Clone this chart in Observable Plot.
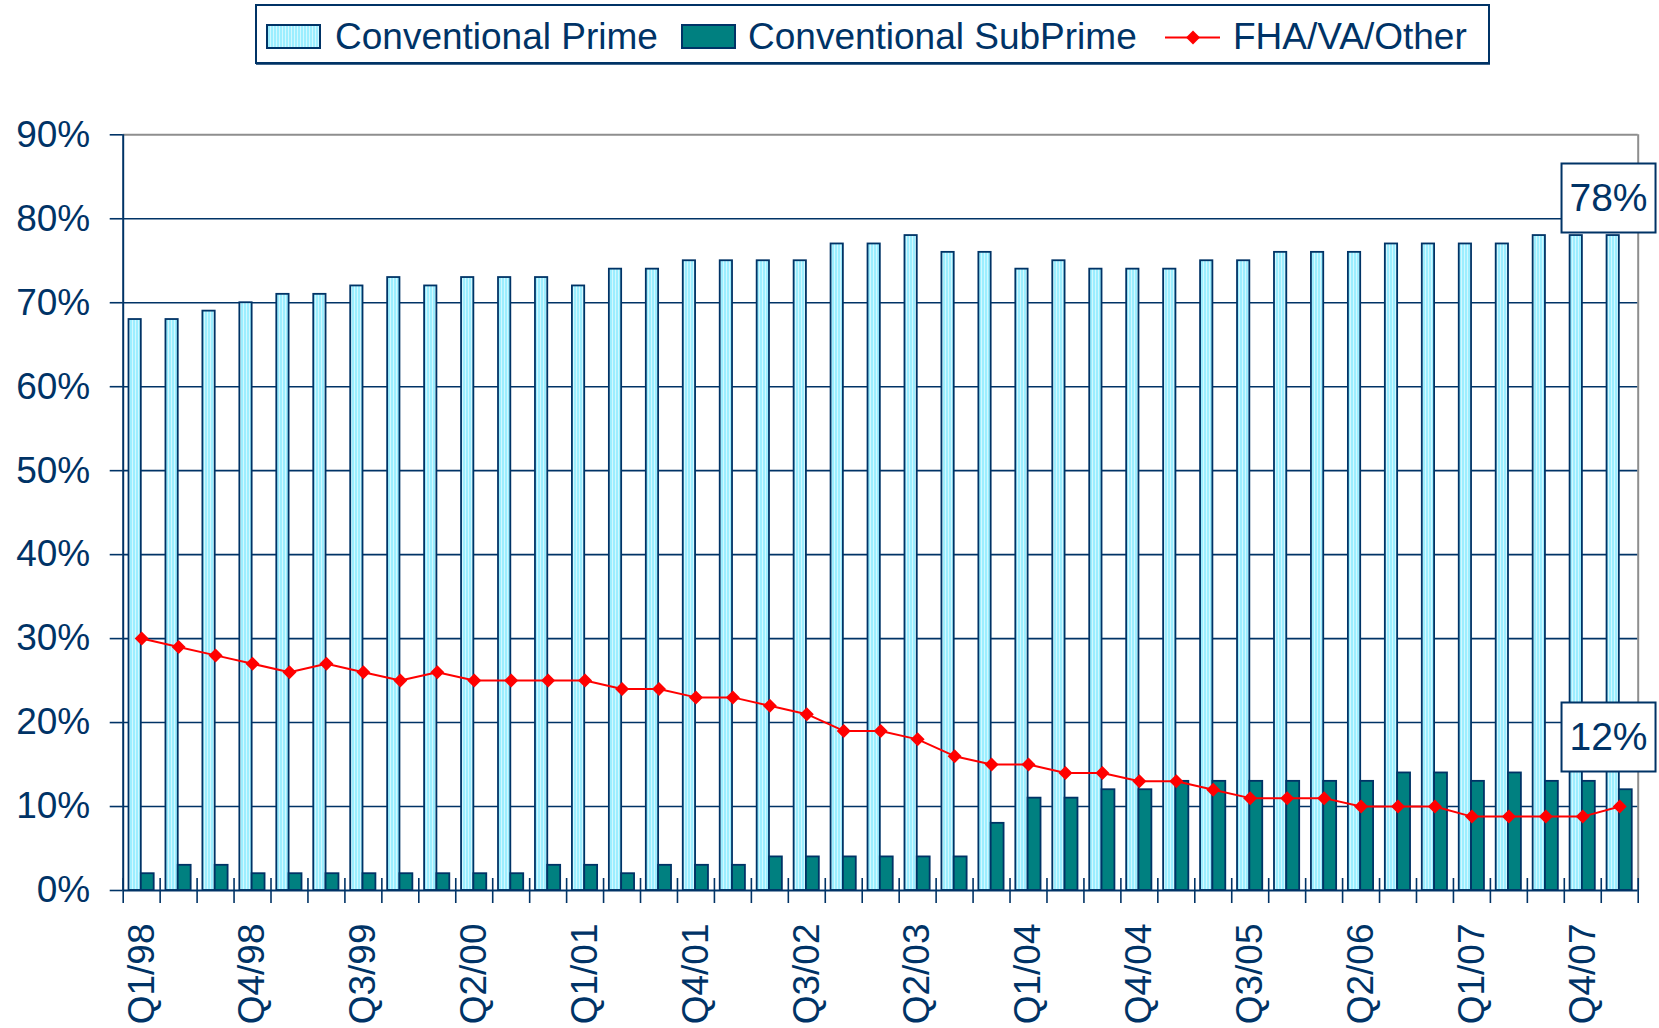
<!DOCTYPE html>
<html>
<head>
<meta charset="utf-8">
<script src="https://cdn.jsdelivr.net/npm/d3@7"></script>
<script src="https://cdn.jsdelivr.net/npm/@observablehq/plot@0.6"></script>
<style>
  html, body { margin: 0; padding: 0; background: #fff; overflow: hidden; }
  #wrap { position: relative; width: 1659px; height: 1028px; overflow: hidden; font-family: "Liberation Sans", Arial, sans-serif; }
  #legend { position: absolute; left: 0; top: 0; }
  #chart { position: absolute; left: 0; top: 70px; }
</style>
</head>
<body>
<div id="wrap">
  <svg id="legend"></svg>
  <div id="chart"></div>
</div>
<script>
// ---------------- DATA ----------------
const quarters = [
  "Q1/98","Q2/98","Q3/98","Q4/98",
  "Q1/99","Q2/99","Q3/99","Q4/99",
  "Q1/00","Q2/00","Q3/00","Q4/00",
  "Q1/01","Q2/01","Q3/01","Q4/01",
  "Q1/02","Q2/02","Q3/02","Q4/02",
  "Q1/03","Q2/03","Q3/03","Q4/03",
  "Q1/04","Q2/04","Q3/04","Q4/04",
  "Q1/05","Q2/05","Q3/05","Q4/05",
  "Q1/06","Q2/06","Q3/06","Q4/06",
  "Q1/07","Q2/07","Q3/07","Q4/07",
  "Q1/08"
];
const tickLabels = ["Q1/98","Q4/98","Q3/99","Q2/00","Q1/01","Q4/01","Q3/02","Q2/03","Q1/04","Q4/04","Q3/05","Q2/06","Q1/07","Q4/07"];
const conventionalPrime = [68,68,69,70,71,71,72,73,72,73,73,73,72,74,74,75,75,75,75,77,77,78,76,76,74,75,74,74,74,75,75,76,76,76,77,77,77,77,78,78,78];
const conventionalSubPrime = [2,3,3,2,2,2,2,2,2,2,2,3,3,2,3,3,3,4,4,4,4,4,4,8,11,11,12,12,13,13,13,13,13,13,14,14,13,14,13,13,12];
const fhaVaOther = [30,29,28,27,26,27,26,25,26,25,25,25,25,24,24,23,23,22,21,19,19,18,16,15,15,14,14,13,13,12,11,11,11,10,10,10,8.8,8.8,8.8,8.8,10];
const yTicks = [0,10,20,30,40,50,60,70,80,90];
const seriesNames = ["Conventional Prime","Conventional SubPrime","FHA/VA/Other"];

// ---------------- STYLE ----------------
const navy = "#003366";
const gray = "#8e8e8e";
const red = "#ff0000";
const teal = "#008080";
const font = '"Liberation Sans", Arial, sans-serif';

// ---------------- LEGEND ----------------
const lg = d3.select("#legend").attr("width", 1659).attr("height", 70);
const defs = lg.append("defs");
const pat = defs.append("pattern").attr("id", "primeStripes")
  .attr("patternUnits", "userSpaceOnUse").attr("width", 3).attr("height", 10);
pat.append("rect").attr("width", 3).attr("height", 10).attr("fill", "#9CEEFF");
pat.append("rect").attr("width", 1).attr("height", 10).attr("fill", "#D2F8FF");

lg.append("rect").attr("x", 256).attr("y", 5).attr("width", 1233).attr("height", 58)
  .attr("fill", "white").attr("stroke", navy).attr("stroke-width", 2);
lg.append("line").attr("x1", 256).attr("x2", 1490).attr("y1", 64).attr("y2", 64)
  .attr("stroke", navy).attr("stroke-width", 1.5);

const legendItems = [
  {name: seriesNames[0], kind: "primeBar", sx: 267, tx: 335},
  {name: seriesNames[1], kind: "subBar", sx: 682, tx: 748},
  {name: seriesNames[2], kind: "line", sx: 1165, tx: 1233}
];
legendItems.forEach(it => {
  if (it.kind === "primeBar" || it.kind === "subBar") {
    lg.append("rect").attr("x", it.sx).attr("y", 25).attr("width", 53).attr("height", 23)
      .attr("fill", it.kind === "primeBar" ? "url(#primeStripes)" : teal)
      .attr("stroke", navy).attr("stroke-width", 2);
  } else {
    lg.append("line").attr("x1", it.sx).attr("x2", it.sx + 55).attr("y1", 37.5).attr("y2", 37.5)
      .attr("stroke", red).attr("stroke-width", 2);
    const cx = it.sx + 28, cy = 37.5, r = 7;
    lg.append("path").attr("d", `M${cx},${cy - r}L${cx + r},${cy}L${cx},${cy + r}L${cx - r},${cy}Z`).attr("fill", red);
  }
  lg.append("text").attr("x", it.tx).attr("y", 49).attr("fill", navy)
    .attr("font-family", font).attr("font-size", 37).text(it.name);
});

// ---------------- CHART ----------------
const W = 1659, H = 958;
const ML = 122.7, MR = 21.3, MT = 64.3, MB = 138;
const bw = (W - ML - MR) / quarters.length;

const rows = quarters.map((q, i) => ({q, prime: conventionalPrime[i], sub: conventionalSubPrime[i], fha: fhaVaOther[i]}));
const last = rows[rows.length - 1];

const boxSymbol = {draw(ctx) { ctx.moveTo(-47, -34.5); ctx.lineTo(47, -34.5); ctx.lineTo(47, 34.5); ctx.lineTo(-47, 34.5); ctx.closePath(); }};
const diamondSymbol = {draw(ctx) { ctx.moveTo(0, -7); ctx.lineTo(7, 0); ctx.lineTo(0, 7); ctx.lineTo(-7, 0); ctx.closePath(); }};

const chart = Plot.plot({
  width: W, height: H,
  marginLeft: ML, marginRight: MR, marginTop: MT, marginBottom: MB,
  style: {fontFamily: font, color: navy, background: "white", overflow: "visible"},
  x: {type: "band", domain: quarters, padding: 0, axis: null},
  y: {domain: [0, 90], axis: null},
  marks: [
    Plot.ruleY(yTicks.filter(t => t > 0 && t < 90), {stroke: navy, strokeWidth: 1.6}),
    Plot.ruleY([90], {stroke: gray, strokeWidth: 2}),
    Plot.ruleX([last.q], {dx: bw / 2, y1: 0, y2: 90, stroke: gray, strokeWidth: 2}),
    Plot.barY(rows, {x: "q", y: "prime", fill: "url(#primeStripes)", stroke: navy, strokeWidth: 1.8,
      insetLeft: 5.8, insetRight: bw - 5.8 - 12.3}),
    Plot.barY(rows, {x: "q", y: "sub", fill: teal, stroke: navy, strokeWidth: 1.8,
      insetLeft: 18.1, insetRight: bw - 18.1 - 12.9}),
    Plot.ruleY([0], {stroke: navy, strokeWidth: 2}),
    Plot.ruleX([quarters[0]], {dx: -bw / 2, y1: 0, y2: 90, stroke: navy, strokeWidth: 2}),
    Plot.axisY(yTicks, {tickSize: 13, tickPadding: 20, fontSize: 37, tickFormat: d => d + "%", label: null, strokeWidth: 1.6}),
    Plot.axisX(quarters, {tickSize: 25, dy: -12, dx: -bw / 2, tickFormat: () => "", label: null, strokeWidth: 1.6}),
    Plot.axisX([last.q], {tickSize: 25, dy: -12, dx: bw / 2, tickFormat: () => "", label: null, strokeWidth: 1.6}),
    Plot.axisX(tickLabels, {tickSize: 0, tickPadding: 33, tickRotate: -90, fontSize: 37, label: null}),
    Plot.line(rows, {x: "q", y: "fha", stroke: red, strokeWidth: 2}),
    Plot.dot(rows, {x: "q", y: "fha", symbol: diamondSymbol, fill: red, stroke: "none"}),
    Plot.dot([last], {x: "q", y: "prime", symbol: boxSymbol, fill: "white", stroke: navy, strokeWidth: 2, dx: -11.2, dy: -37.5}),
    Plot.text([last], {x: "q", y: "prime", text: d => d.prime + "%", dx: -11.2, dy: -37.5, fontSize: 39, fill: navy}),
    Plot.dot([last], {x: "q", y: "sub", symbol: boxSymbol, fill: "white", stroke: navy, strokeWidth: 2, dx: -11.2, dy: -52.7}),
    Plot.text([last], {x: "q", y: "sub", text: d => d.sub + "%", dx: -11.2, dy: -52.7, fontSize: 39, fill: navy})
  ]
});
document.getElementById("chart").appendChild(chart);
</script>
</body>
</html>
